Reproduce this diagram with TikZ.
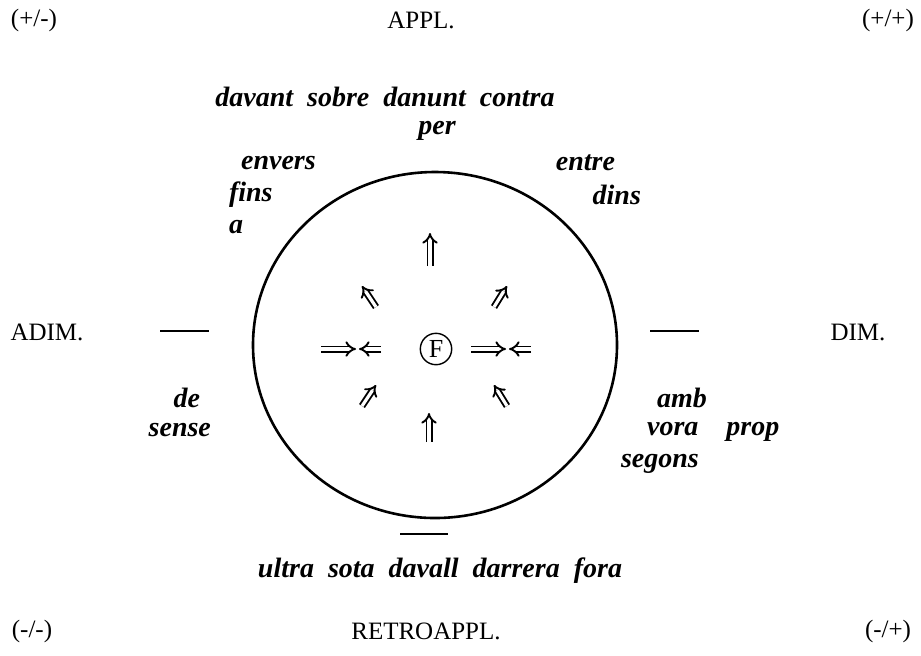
\documentclass[tikz,border=0pt]{standalone}
\usepackage{fontspec}
\setmainfont{Liberation Serif}
\usetikzlibrary{arrows.meta}
\tikzset{
  pole/.style={font=\fontsize{12.5}{14}\selectfont},
  prep/.style={font=\fontsize{14}{16}\selectfont\bfseries\itshape},
  rulebar/.style={line width=1pt},
  dbl/.style={double, double distance=1.6pt, line width=0.95pt, -{Implies}},
}
\begin{document}
\begin{tikzpicture}[x=0.5pt,y=-0.5pt]
\useasboundingbox (0,0) rectangle (921,655);
\node[pole] (pm) at (34,20) {(+/-)};
\node[pole] (appl) at (421,20) {APPL.};
\node[pole] (pp) at (888,20) {(+/+)};
\node[pole] (adim) at (47,332) {ADIM.};
\node[pole] (dim) at (858,332) {DIM.};
\node[pole] (mm) at (32,631) {(-/-)};
\node[pole] (retro) at (426,631) {RETROAPPL.};
\node[pole] (mp) at (888,631) {(-/+)};
\draw[line width=1.3pt] (435,345) ellipse (182 and 173);
\node[draw, circle, line width=0.7pt, inner sep=1.6pt, font=\fontsize{13}{15}\selectfont] (F) at (436,349) {F};
\draw[rulebar] (160,331) -- (209,331);
\draw[rulebar] (650,331) -- (699,331);
\draw[rulebar] (400,534) -- (448,534);
\node[prep] (top) at (385,97) {davant\enspace sobre\enspace danunt\enspace contra};
\node[prep] (per) at (437,131) {per};
\node[prep, anchor=west] (envers) at (234,163) {envers};
\node[prep, anchor=west] (fins) at (222,195) {fins};
\node[prep, anchor=west] (a) at (222,227) {a};
\node[prep, anchor=east] (entre) at (622,163) {entre};
\node[prep, anchor=east] (dins) at (648,195) {dins};
\node[prep, anchor=east] (de) at (207,398) {de};
\node[prep, anchor=east] (sense) at (218,430) {sense};
\node[prep, anchor=west] (amb) at (650,398) {amb};
\node[prep, anchor=west] (vora) at (640,432) {vora\quad prop};
\node[prep, anchor=west] (segons) at (614,464) {segons};
\node[prep] (bottom) at (440,571) {ultra\enspace sota\enspace davall\enspace darrera\enspace fora};
\draw[dbl] (321,349) -- (356,349);
\draw[dbl] (381,349) -- (359,349);
\draw[dbl] (471,349) -- (506,349);
\draw[dbl] (531,349) -- (509,349);
\draw[dbl] (430,266) -- (430,233);
\draw[dbl] (429,442) -- (429,413);
\draw[dbl] (376,307) -- (362,286);
\draw[dbl] (494,307) -- (507,286);
\draw[dbl] (362,406) -- (376,385);
\draw[dbl] (507,406) -- (494,385);
\end{tikzpicture}
\end{document}
